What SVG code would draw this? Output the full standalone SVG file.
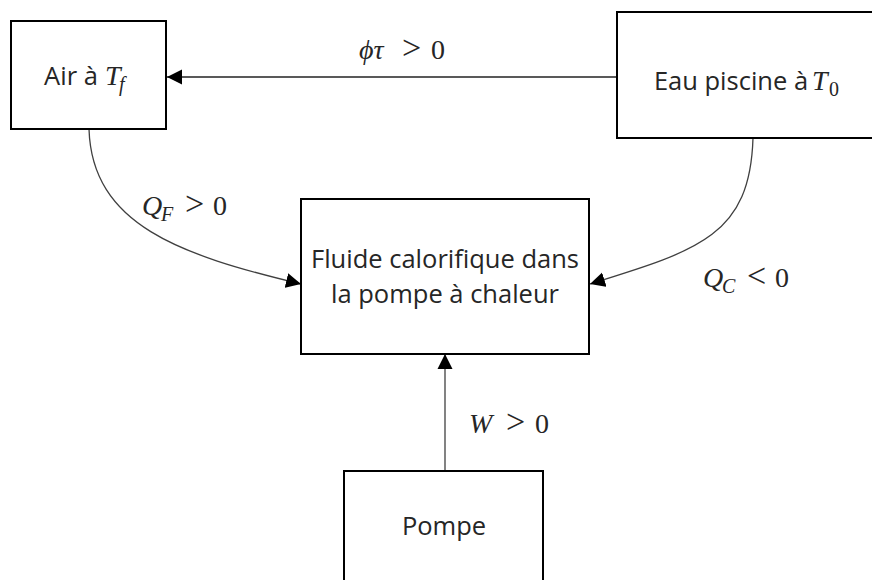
<svg xmlns="http://www.w3.org/2000/svg" width="872" height="580" viewBox="0 0 872 580">
<defs>
<style>
.box{fill:#fff;stroke:#000;stroke-width:2}
.lbl{font-family:"Open Sans","Liberation Sans",sans-serif;font-size:25.5px;fill:#262626;text-anchor:middle}
.m{font-family:"Liberation Serif","DejaVu Serif",serif;font-size:28px;fill:#262626}
.mi{font-style:italic}
.rel{font-size:34px}
.sub{font-size:20px}
.con{fill:none;stroke:#404040;stroke-width:1.3}
.hcon{fill:none;stroke:#595959;stroke-width:2}
</style>
<marker id="ah" markerWidth="16" markerHeight="16" refX="15" refY="8" orient="auto" markerUnits="userSpaceOnUse">
<path d="M0,0.5 L15,8 L0,15.5 Z" fill="#000"/>
</marker>
</defs>
<rect width="872" height="580" fill="#fff"/>
<g id="connectors">
<path class="hcon" d="M617,77 L167,77" marker-end="url(#ah)"/>
<path class="con" d="M89,129 C92,225 180,255 301,284" marker-end="url(#ah)"/>
<path class="con" d="M753,138 C750,235 700,250 590,284" marker-end="url(#ah)"/>
<path class="con" d="M445,471 L445,354" marker-end="url(#ah)"/>
<text class="m" y="59"><tspan class="mi" x="359">ϕτ</tspan><tspan class="rel" x="402">&gt;</tspan><tspan x="431">0</tspan></text>
<text class="m" y="215"><tspan class="mi" x="142">Q</tspan><tspan class="mi sub" x="161" dy="6">F</tspan><tspan class="rel" x="185" dy="-6">&gt;</tspan><tspan x="213">0</tspan></text>
<text class="m" y="287"><tspan class="mi" x="703">Q</tspan><tspan class="mi sub" x="722" dy="6">C</tspan><tspan class="rel" x="747" dy="-6">&lt;</tspan><tspan x="775">0</tspan></text>
<text class="m" y="433"><tspan class="mi" x="469">W</tspan><tspan class="rel" x="506">&gt;</tspan><tspan x="535">0</tspan></text>
</g>
<g id="air">
<rect class="box" x="11" y="21" width="155" height="108"/>
<text class="lbl" x="71" y="85">Air à</text>
<text class="m" y="85"><tspan class="mi" x="105">T</tspan><tspan class="mi sub" x="119" dy="6">f</tspan></text>
</g>
<g id="eau">
<rect class="box" x="617" y="12" width="270" height="126"/>
<text class="lbl" x="731" y="90">Eau piscine à</text>
<text class="m" y="90"><tspan class="mi" x="812">T</tspan><tspan class="sub" x="829" dy="6">0</tspan></text>
</g>
<g id="fluide">
<rect class="box" x="301" y="199" width="288" height="155"/>
<text class="lbl" x="445" y="268">Fluide calorifique dans</text>
<text class="lbl" x="445" y="303">la pompe à chaleur</text>
</g>
<g id="pompe">
<rect class="box" x="344" y="471" width="199" height="140"/>
<text class="lbl" x="444" y="535">Pompe</text>
</g>
</svg>
